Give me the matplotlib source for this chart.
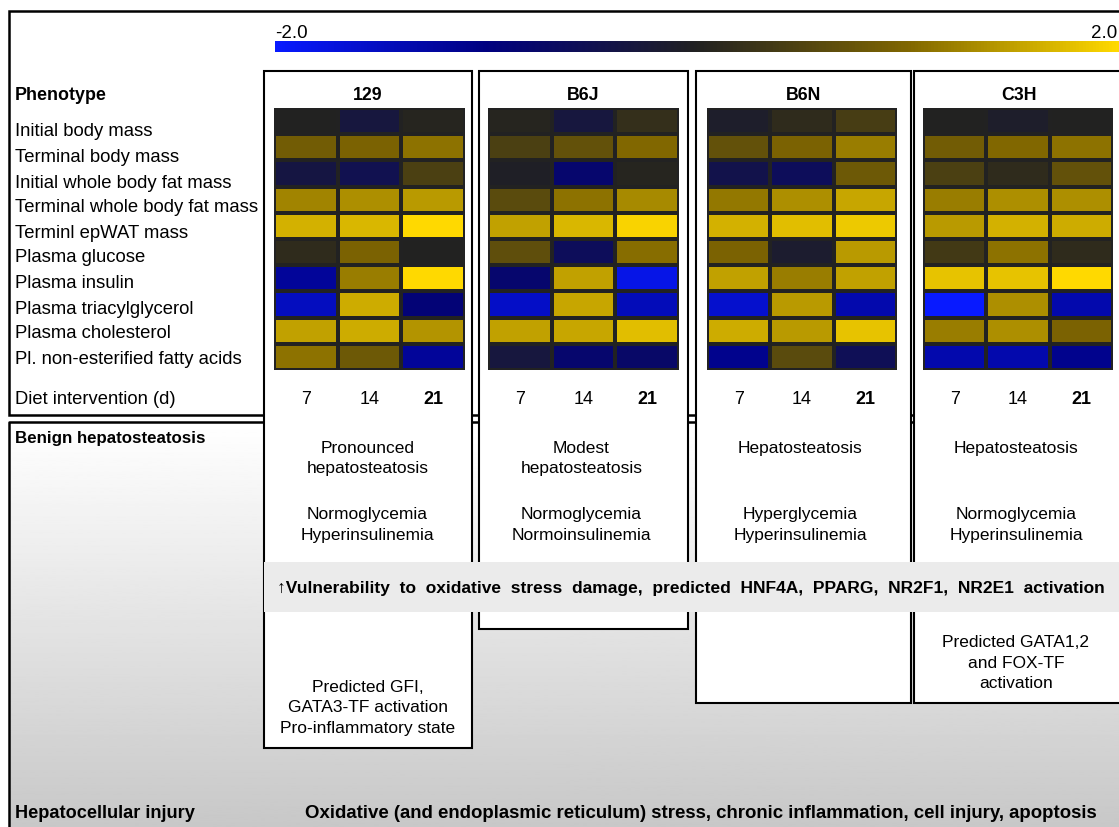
import numpy as np
import matplotlib
matplotlib.use("Agg")
import matplotlib.pyplot as plt
from matplotlib.colors import LinearSegmentedColormap, Normalize
from matplotlib.patches import Rectangle
import matplotlib.colorbar as mcolorbar

plt.rcParams['font.family'] = ['Liberation Sans', 'DejaVu Sans']

# ---------------------------------------------------------------
# data (log ratios, -2 .. 2)
strains = ["129", "B6J", "B6N", "C3H"]
days = ["7", "14", "21"]
phenotypes = ["Initial body mass", "Terminal body mass", "Initial whole body fat mass",
              "Terminal whole body fat mass", "Terminl epWAT mass", "Plasma glucose",
              "Plasma insulin", "Plasma triacylglycerol", "Plasma cholesterol",
              "Pl. non-esterified fatty acids"]

vals_129 = [[0.0, -0.3, 0.05],
            [0.85, 0.95, 1.1],
            [-0.35, -0.5, 0.45],
            [1.25, 1.35, 1.45],
            [1.65, 1.7, 2.0],
            [0.15, 0.95, 0.0],
            [-1.2, 1.2, 2.0],
            [-1.5, 1.6, -0.9],
            [1.5, 1.6, 1.4],
            [1.1, 0.8, -1.2]]
vals_b6j = [[0.05, -0.3, 0.2],
            [0.45, 0.7, 1.0],
            [-0.05, -0.8, 0.05],
            [0.6, 1.1, 1.3],
            [1.5, 1.7, 1.95],
            [0.65, -0.6, 1.05],
            [-0.8, 1.5, -1.8],
            [-1.55, 1.55, -1.45],
            [1.5, 1.55, 1.75],
            [-0.3, -0.8, -0.75]]
vals_b6n = [[-0.1, 0.15, 0.4],
            [0.7, 0.95, 1.2],
            [-0.45, -0.6, 0.8],
            [1.15, 1.35, 1.55],
            [1.65, 1.75, 1.85],
            [0.95, -0.15, 1.45],
            [1.5, 1.2, 1.5],
            [-1.6, 1.45, -1.35],
            [1.6, 1.45, 1.8],
            [-1.1, 0.6, -0.55]]
vals_c3h = [[0.0, -0.1, 0.0],
            [0.85, 1.0, 1.1],
            [0.45, 0.15, 0.7],
            [1.2, 1.35, 1.35],
            [1.45, 1.65, 1.6],
            [0.35, 1.1, 0.15],
            [1.8, 1.8, 2.0],
            [-2.0, 1.35, -1.35],
            [1.2, 1.35, 0.95],
            [-1.35, -1.35, -1.1]]
heat_values = [vals_129, vals_b6j, vals_b6n, vals_c3h]

steatosis_txt = ["Pronounced\nhepatosteatosis", "Modest\nhepatosteatosis",
                 "Hepatosteatosis", "Hepatosteatosis"]
glyc_txt = ["Normoglycemia\nHyperinsulinemia", "Normoglycemia\nNormoinsulinemia",
            "Hyperglycemia\nHyperinsulinemia", "Normoglycemia\nHyperinsulinemia"]
extra_txt = ["Predicted GFI,\nGATA3-TF activation\nPro-inflammatory state", None,
             None, "Predicted GATA1,2\nand FOX-TF\nactivation"]
band_txt = u"\u2191Vulnerability  to  oxidative  stress  damage,  predicted  HNF4A,  PPARG,  NR2F1,  NR2E1  activation"
injury_txt = "Oxidative (and endoplasmic reticulum) stress, chronic inflammation, cell injury, apoptosis"

# ---------------------------------------------------------------
# layout (pixels)
W, H = 1119, 827
box_x = [(264, 472), (479, 688), (696, 911), (914, 1126)]
box_bottom = [748, 629, 703, 703]
heat_x = [(274, 465), (488, 679), (707, 897), (923, 1113)]
heat_y = (108, 370)
label_y = [131, 157, 183, 208, 233, 258, 284, 309, 334, 360]

cmap = LinearSegmentedColormap.from_list(
    "by", [(0.0, (0.03, 0.1, 1.0)), (0.25, (0.0, 0.0, 0.5)),
           (0.5, (0.13, 0.13, 0.13)), (0.75, (0.5, 0.4, 0.0)),
           (1.0, (1.0, 0.85, 0.0))])
norm = Normalize(-2, 2)

fig = plt.figure(figsize=(W / 100, H / 100), dpi=100)
ax = fig.add_axes([0, 0, 1, 1])
ax.set_xlim(0, W)
ax.set_ylim(H, 0)
ax.axis('off')

# bottom panel with grey gradient
grad = np.linspace(1.0, 0.78, 256).reshape(-1, 1)
ax.imshow(grad, cmap='gray', vmin=0, vmax=1, extent=[9, W + 5, H + 5, 422],
          aspect='auto', zorder=0)
ax.plot([W + 5, 9, 9], [422, 422, H + 5], color='black', lw=1.8, zorder=1)
# top panel
ax.add_patch(Rectangle((9, 11), W, 404, facecolor='white', edgecolor='black',
                       lw=1.8, zorder=1))

# strain boxes
for (x0, x1), yb in zip(box_x, box_bottom):
    ax.add_patch(Rectangle((x0, 71), x1 - x0, yb - 71, facecolor='white',
                           edgecolor='black', lw=1.5, zorder=2))

# grey band
ax.add_patch(Rectangle((264, 562), W - 264 + 5, 50, facecolor='#ebebeb',
                       edgecolor='none', zorder=3))
ax.text(277, 588, band_txt, fontsize=12.5, fontweight='bold', va='center',
        ha='left', zorder=4, family=['Liberation Sans', 'DejaVu Sans'])

# left labels
ax.text(15, 96, "Phenotype", fontsize=12.9, fontweight='bold', va='center', zorder=4)
for lab, y in zip(phenotypes, label_y):
    ax.text(15, y, lab, fontsize=13.3, va='center', zorder=4)
ax.text(15, 399, "Diet intervention (d)", fontsize=13.2, va='center', zorder=4)
ax.text(15, 439, "Benign hepatosteatosis", fontsize=12.2, fontweight='bold',
        va='center', zorder=4)
ax.text(15, 813, "Hepatocellular injury", fontsize=13.1, fontweight='bold',
        va='center', zorder=4)
ax.text(305, 813, injury_txt, fontsize=13.4, fontweight='bold', va='center', zorder=4)

# colour bar
ax.text(275, 34, "-2.0", fontsize=13.5, va='center', ha='left')
ax.text(1117, 34, "2.0", fontsize=13.5, va='center', ha='right')
cax = fig.add_axes([275 / W, 1 - 52 / H, (W - 275) / W, 11 / H])
cb = mcolorbar.ColorbarBase(cax, cmap=cmap, norm=norm, orientation='horizontal')
cb.set_ticks([])
cb.outline.set_visible(False)

# heatmaps and strain texts
for i, s in enumerate(strains):
    (x0, x1) = heat_x[i]
    cx = (box_x[i][0] + min(box_x[i][1], W + 5)) / 2 if i < 3 else 1019
    ax.text(cx, 95, s, fontsize=12.8, fontweight='bold', ha='center', va='center', zorder=4)
    hax = fig.add_axes([x0 / W, 1 - heat_y[1] / H, (x1 - x0) / W, (heat_y[1] - heat_y[0]) / H])
    hax.pcolormesh(np.array(heat_values[i]), cmap=cmap, norm=norm,
                   edgecolors='#222222', linewidth=1.6)
    hax.set_ylim(len(phenotypes), 0)
    hax.axis('off')
    colw = (x1 - x0) / 3
    for j, d in enumerate(days):
        ax.text(x0 + colw * (j + 0.5), 399, d, fontsize=13, ha='center', va='center',
                fontweight='bold' if j == 2 else 'normal', zorder=4)
    tx = (x0 + x1) / 2 - 2
    ax.text(tx, 458.5 if "\n" in steatosis_txt[i] else 448, steatosis_txt[i],
            fontsize=12.5, ha='center', va='center', linespacing=1.45, zorder=4)
    ax.text(tx, 525, glyc_txt[i], fontsize=12.5, ha='center', va='center',
            linespacing=1.45, zorder=4)
    if extra_txt[i] is not None:
        ax.text(tx, 708 if i == 0 else 663, extra_txt[i], fontsize=12.5,
                ha='center', va='center', linespacing=1.45, zorder=4)

fig.savefig("out.png", dpi=100)
